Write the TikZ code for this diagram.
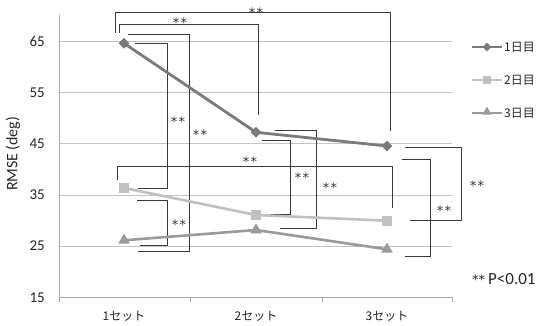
\documentclass[tikz,border=0pt]{standalone}
\usepackage{fontspec}
\setmainfont{Carlito}
\newfontfamily\jpfont{Noto Sans CJK JP}
\newfontfamily\astfont{DejaVu Sans}
\usetikzlibrary{shapes.geometric}
\definecolor{dayone}{HTML}{7A7A7A}
\definecolor{daytwo}{HTML}{C0C0C0}
\definecolor{daythree}{HTML}{9A9A9A}
\definecolor{gridc}{HTML}{C4C4C4}
\definecolor{axisc}{HTML}{A8A8A8}
\definecolor{brk}{HTML}{3A3A3A}
\newcommand{\sigmark}{*\kern1.2pt*}
\tikzset{
  grid line/.style={draw=gridc, line width=0.9pt},
  axis line/.style={draw=axisc, line width=0.9pt},
  ticklab/.style={font=\fontsize{15}{17}\selectfont, text=black!85, anchor=east, inner sep=0pt},
  catlab/.style={font=\jpfont\fontsize{12}{14}\selectfont, text=black!85, inner sep=0pt},
  brack/.style={draw=brk, line width=0.75pt},
  sig/.style={font=\astfont\fontsize{13}{14}\selectfont, text=black!80, inner sep=0pt},
  dmark/.style={diamond, fill=dayone, minimum width=11pt, minimum height=11pt, inner sep=0pt},
  smark/.style={rectangle, fill=daytwo, minimum width=10pt, minimum height=10pt, inner sep=0pt},
  tmark/.style={isosceles triangle, isosceles triangle apex angle=60, shape border rotate=90, fill=daythree, minimum height=10pt, inner sep=0pt},
  legtext/.style={font=\jpfont\fontsize{12}{14}\selectfont, text=black!85, anchor=west, inner sep=0pt},
}
\begin{document}
\begin{tikzpicture}[x=1pt,y=-1pt]
\useasboundingbox (0,0) rectangle (541,325);
% grid
\foreach \yy in {41,92.3,143.6,195,246}{
  \draw[grid line] (59,\yy) -- (452,\yy);
}
\draw[axis line] (59,15) -- (59,297.3) -- (452,297.3);
\foreach \xx in {59,190,322,452}{
  \draw[axis line] (\xx,297.3) -- (\xx,302);
}
% tick labels
\node[ticklab] (t65) at (45,41) {65};
\node[ticklab] (t55) at (45,92.3) {55};
\node[ticklab] (t45) at (45,143.6) {45};
\node[ticklab] (t35) at (45,195) {35};
\node[ticklab] (t25) at (45,246) {25};
\node[ticklab] (t15) at (45,297.3) {15};
\node[font=\fontsize{16}{17}\selectfont, text=black!85, rotate=90, inner sep=0pt] (ylab) at (13,154) {RMSE\,(deg)};
\node[catlab] (c1) at (124,316) {1セット};
\node[catlab] (c2) at (256,316) {2セット};
\node[catlab] (c3) at (387,316) {3セット};
% data coordinates
\coordinate (a1) at (124,43.3);
\coordinate (a2) at (256,132.3);
\coordinate (a3) at (387,146);
\coordinate (b1) at (124,188);
\coordinate (b2) at (256,215);
\coordinate (b3) at (387,220.7);
\coordinate (e1) at (124,240.3);
\coordinate (e2) at (256,230);
\coordinate (e3) at (387,249.3);
% brackets
\draw[brack] (115,33) -- (115,12.7) -- (390.7,12.7) -- (390.7,131);
\node[sig] (s1) at (256,13) {\sigmark};
\draw[brack] (119,33) -- (119,24.3) -- (258,24.3) -- (258,115);
\node[sig] (s2) at (180,23) {\sigmark};
\draw[brack] (128,34) -- (189,34) -- (189,251.7) -- (138,251.7);
\node[sig] (s3) at (200,135) {\sigmark};
\draw[brack] (135,43) -- (167,43) -- (167,188.3) -- (138,188.3);
\node[sig] (s4) at (178,122) {\sigmark};
\draw[brack] (137,200) -- (167,200) -- (167,245) -- (140,245);
\node[sig] (s5) at (179,225) {\sigmark};
\draw[brack] (117,180) -- (117,166.7) -- (392.7,166.7) -- (392.7,208.3);
\node[sig] (s6) at (250,162) {\sigmark};
\draw[brack] (261.7,140.7) -- (290,140.7) -- (290,214) -- (270,214);
\node[sig] (s7) at (302,178) {\sigmark};
\draw[brack] (275,130.7) -- (316.7,130.7) -- (316.7,228.3) -- (280,228.3);
\node[sig] (s8) at (330,188) {\sigmark};
\draw[brack] (405,147.3) -- (461,147.3) -- (461,220.7) -- (410,220.7);
\node[sig] (s9) at (477,185.5) {\sigmark};
\draw[brack] (401.7,159.3) -- (430,159.3) -- (430,256) -- (405,256);
\node[sig] (s10) at (444,211) {\sigmark};
% series
\draw[dayone, line width=2.8pt] (a1) -- (a2) -- (a3);
\draw[daytwo, line width=2.6pt] (b1) -- (b2) -- (b3);
\draw[daythree, line width=2.6pt] (e1) -- (e2) -- (e3);
\foreach \p in {a1,a2,a3}{\node[dmark] at (\p) {};}
\foreach \p in {b1,b2,b3}{\node[smark] at (\p) {};}
\foreach \p in {e1,e2,e3}{\node[tmark] at (\p) {};}
% legend
\coordinate (l1a) at (472,47); \coordinate (l1b) at (502,47);
\coordinate (l2a) at (472,80); \coordinate (l2b) at (502,80);
\coordinate (l3a) at (472,113); \coordinate (l3b) at (502,113);
\draw[dayone, line width=2.6pt] (l1a) -- (l1b);
\draw[daytwo, line width=2.6pt] (l2a) -- (l2b);
\draw[daythree, line width=2.6pt] (l3a) -- (l3b);
\node[dmark, minimum width=9pt, minimum height=9pt] (lm1) at (487,47) {};
\node[smark, minimum width=8pt, minimum height=8pt] (lm2) at (487,80) {};
\node[tmark, minimum height=8pt] (lm3) at (487,112) {};
\node[legtext] (lt1) at (504,47) {1日目};
\node[legtext] (lt2) at (504,80) {2日目};
\node[legtext] (lt3) at (504,113) {3日目};
\node[text=black!85, anchor=west, inner sep=0pt] (pval) at (472,279) {{\astfont\fontsize{13}{14}\selectfont **}\kern3pt{\fontsize{17}{18}\selectfont P<0.01}};
\end{tikzpicture}
\end{document}
